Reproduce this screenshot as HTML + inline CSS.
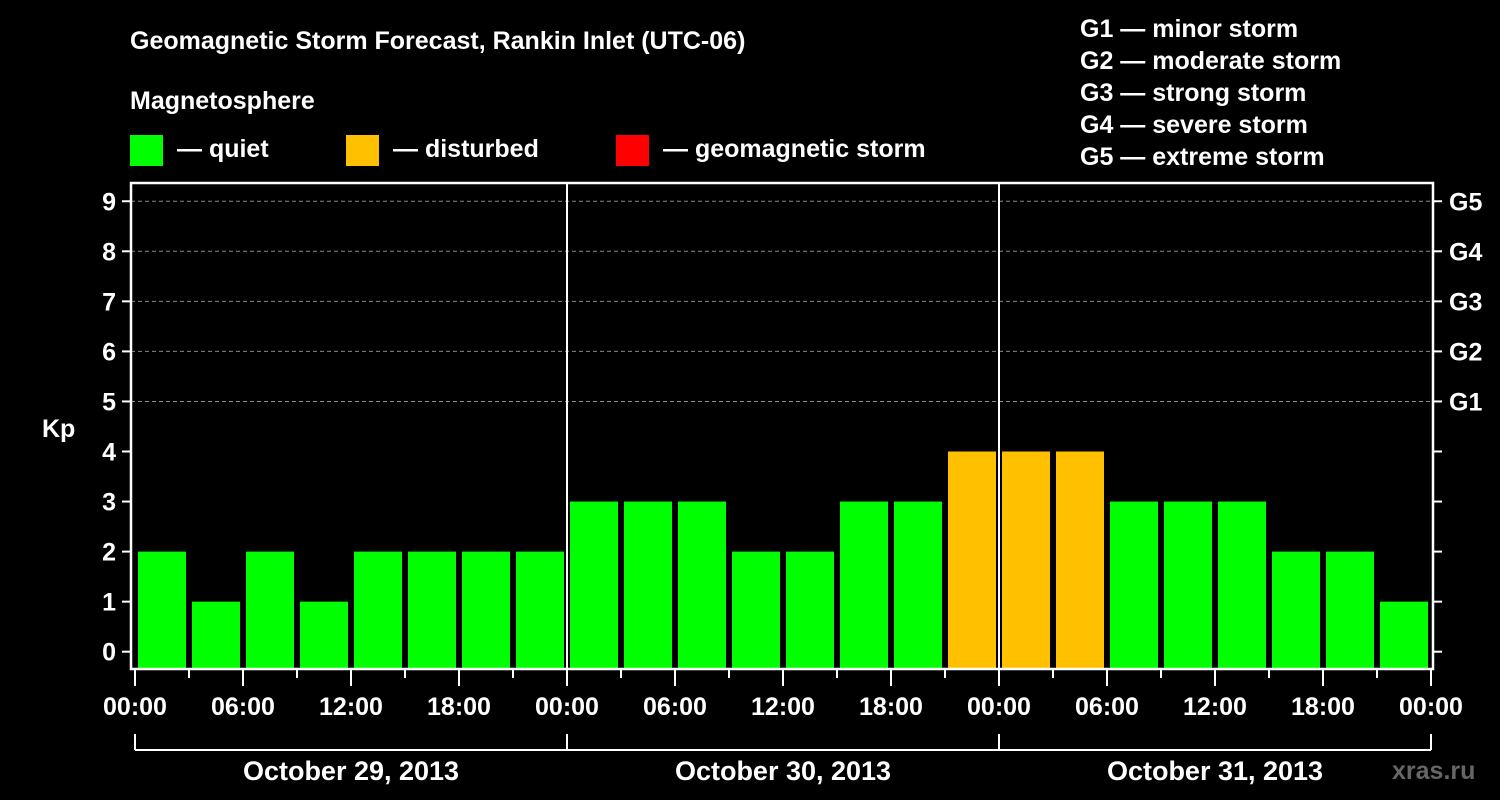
<!DOCTYPE html>
<html><head><meta charset="utf-8"><style>
html,body{margin:0;padding:0;background:#000;width:1500px;height:800px;overflow:hidden}
svg text{font-family:"Liberation Sans",Arial,sans-serif;font-weight:bold;fill:#fff}
</style></head><body>
<svg id="chart" width="1500" height="800" xmlns="http://www.w3.org/2000/svg">
<rect width="1500" height="800" fill="#000"/>
<text x="130" y="49" font-size="25">Geomagnetic Storm Forecast, Rankin Inlet (UTC-06)</text>
<text x="130" y="109" font-size="25">Magnetosphere</text>
<g><rect x="130" y="135" width="33" height="31" fill="#00ff00"/><text x="177" y="157" font-size="25">— quiet</text></g>
<g><rect x="346" y="135" width="33" height="31" fill="#ffc000"/><text x="393" y="157" font-size="25">— disturbed</text></g>
<g><rect x="616" y="135" width="33" height="31" fill="#ff0000"/><text x="663" y="157" font-size="25">— geomagnetic storm</text></g>
<g font-size="25">
<text x="1080" y="37">G1 — minor storm</text>
<text x="1080" y="69">G2 — moderate storm</text>
<text x="1080" y="101">G3 — strong storm</text>
<text x="1080" y="133">G4 — severe storm</text>
<text x="1080" y="165">G5 — extreme storm</text>
</g>
<text x="42" y="437" font-size="25">Kp</text>
<text x="1392" y="779" font-size="25" fill="#777" style="fill:#666">xras.ru</text>
<g id="grid"></g><g id="bars"></g><g id="axes"></g>
</svg>
<script>
const kpValues=[2,1,2,1,2,2,2,2,3,3,3,2,2,3,3,4,4,4,3,3,3,2,2,1];
const dayLabels=["October 29, 2013","October 30, 2013","October 31, 2013"];
const timeLabels=["00:00","06:00","12:00","18:00"];
const gLabels=["G1","G2","G3","G4","G5"];
const NS="http://www.w3.org/2000/svg";
const L=131,R=1433,T=183,B=669,X0=135,DAY=432;
const y=v=>651.7-v*50.05;
const x=h=>X0+h*DAY/24;
function mk(tag,attrs,parent,txt){const e=document.createElementNS(NS,tag);for(const k in attrs)e.setAttribute(k,attrs[k]);if(txt!==undefined)e.textContent=txt;document.getElementById(parent).appendChild(e);return e;}
for(let v=5;v<=9;v++){const l=mk('line',{x1:L,x2:R,y1:y(v),y2:y(v),stroke:'#888','stroke-dasharray':'4,3','stroke-width':1},'grid');

}
kpValues.forEach((v,i)=>{const c=v>=5?'#ff0000':(v>=4?'#ffc000':'#00ff00');
const r=mk('rect',{x:x(i*3)+3,width:48,y:y(v),height:B-y(v),fill:c},'bars');

});
for(let d=1;d<3;d++){const l=mk('line',{x1:x(d*24),x2:x(d*24),y1:T,y2:B,stroke:'#fff','stroke-width':2},'axes');

}
const fr=mk('rect',{x:L,y:T,width:R-L,height:B-T,fill:'none',stroke:'#fff','stroke-width':2.5},'axes');


for(let v=0;v<=9;v++){mk('line',{x1:L-9,x2:L,y1:y(v),y2:y(v),stroke:'#fff','stroke-width':2},'axes');
mk('line',{x1:R,x2:R+9,y1:y(v),y2:y(v),stroke:'#fff','stroke-width':2},'axes');
const t=mk('text',{x:L-15,y:y(v)+9,'font-size':25,'text-anchor':'end'},'axes',String(v));


if(v>=5){const g=mk('text',{x:1449,y:y(v)+9,'font-size':25},'axes',gLabels[v-5]);

}}
for(let h=0;h<=72;h+=3){const major=h%6===0;mk('line',{x1:x(h),x2:x(h),y1:B,y2:major?686:678,stroke:'#fff','stroke-width':2},'axes');
if(major){const t=mk('text',{x:x(h),y:715,'font-size':25,'text-anchor':'middle'},'axes',timeLabels[(h%24)/6]);

}}
mk('line',{x1:x(0),x2:x(72),y1:750,y2:750,stroke:'#fff','stroke-width':2},'axes');
for(let d=0;d<=3;d++)mk('line',{x1:x(d*24),x2:x(d*24),y1:734,y2:750,stroke:'#fff','stroke-width':2},'axes');
dayLabels.forEach((s,d)=>{const t=mk('text',{x:x(d*24+12),y:780,'font-size':27,'text-anchor':'middle'},'axes',s);

});
</script>
</body></html>
